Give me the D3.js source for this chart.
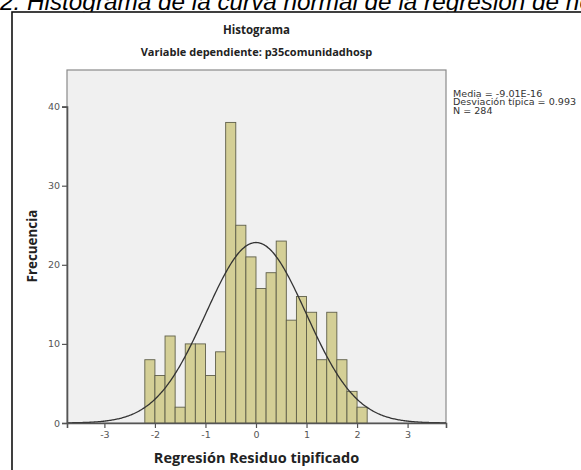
<!DOCTYPE html>
<html><head><meta charset="utf-8">
<script src="https://cdn.jsdelivr.net/npm/d3@7/dist/d3.min.js"></script>
<style>html,body{margin:0;padding:0;background:#fff;}svg{display:block;}</style>
</head><body>
<script>
// Data
const binLower = [-2.2,-2.0,-1.8,-1.6,-1.4,-1.2,-1.0,-0.8,-0.6,-0.4,-0.2,0.0,0.2,0.4,0.6,0.8,1.0,1.2,1.4,1.6,1.8,2.0];
const counts   = [8,6,11,2,10,10,6,9,38,25,21,17,19,23,13,16,14,8,14,8,4,2];
const binWidth = 0.2;
const xTicks = [-3,-2,-1,0,1,2,3];
const yTicks = [0,10,20,30,40];
const statsLines = ["Media = -9.01E-16","Desviación típica = 0.993","N = 284"];
const mean = -9.01e-16, sd = 0.993, N = 284;

const W = 581, H = 470;
const svg = d3.select("body").append("svg").attr("width", W).attr("height", H);

// header caption (cropped in the reference)
svg.append("text").attr("x", 0).attr("y", 9.5)
  .attr("font-family", "Liberation Sans, Arial, sans-serif").attr("font-style", "italic")
  .attr("font-size", 24.3).attr("fill", "#000")
  .text("2. Histograma de la curva normal de la regresión de no");

// outer frame
svg.append("rect").attr("x", 12).attr("y", 12).attr("width", W + 20).attr("height", H + 20)
  .attr("fill", "#fff").attr("stroke", "#111").attr("stroke-width", 1.6);

const plot = {l: 67, r: 446, t: 70, b: 423};
const x = d3.scaleLinear().domain([-3.74, 3.76]).range([plot.l, plot.r]);
const y = d3.scaleLinear().domain([0, 40]).range([plot.b, 106.6]);

svg.append("rect").attr("x", plot.l).attr("y", plot.t).attr("width", plot.r - plot.l).attr("height", plot.b - plot.t)
  .attr("fill", "#f0f0f0").attr("stroke", "#8a8a8a").attr("stroke-width", 1.2);

// bars
svg.append("g").selectAll("rect").data(counts).join("rect")
  .attr("x", (d, i) => x(binLower[i]))
  .attr("width", (d, i) => x(binLower[i] + binWidth) - x(binLower[i]))
  .attr("y", d => y(d))
  .attr("height", d => y(0) - y(d))
  .attr("fill", "#d4cf96").attr("stroke", "#5f5f4a").attr("stroke-width", 0.9);

// normal curve
const xs = d3.range(x.domain()[0], x.domain()[1] + 0.001, 0.02);
const pdf = v => N * binWidth * Math.exp(-0.5 * Math.pow((v - mean) / sd, 2)) / (sd * Math.sqrt(2 * Math.PI));
svg.append("path").datum(xs)
  .attr("d", d3.line().x(v => x(v)).y(v => y(pdf(v))).curve(d3.curveBasis))
  .attr("fill", "none").attr("stroke", "#333").attr("stroke-width", 1.3);

// axes
const tickFont = "DejaVu Sans, sans-serif";
const yAxis = svg.append("g").attr("transform", `translate(${plot.l},0)`)
  .call(d3.axisLeft(y).tickValues(yTicks).tickSize(5).tickPadding(2));
const xAxis = svg.append("g").attr("transform", `translate(0,${plot.b})`)
  .call(d3.axisBottom(x).tickValues(xTicks).tickSize(5).tickPadding(3).tickFormat(d3.format("d")));
[yAxis, xAxis].forEach(a => {
  a.select(".domain").attr("stroke", "#555").attr("stroke-width", 1.6);
  a.selectAll(".tick line").attr("stroke", "#555").attr("stroke-width", 1.2);
  a.selectAll(".tick text").attr("fill", "#555").attr("font-family", tickFont).attr("font-size", 9.5);
});
xAxis.selectAll(".tick text").text(d => d < 0 ? "-" + Math.abs(d) : d);

// titles
const boldFont = "Open Sans, DejaVu Sans, sans-serif";
svg.append("text").attr("x", 256.5).attr("y", 34).attr("text-anchor", "middle")
  .attr("font-family", boldFont).attr("font-weight", "bold").attr("font-size", 11.5).attr("fill", "#222")
  .text("Histograma");
svg.append("text").attr("x", 256.5).attr("y", 56).attr("text-anchor", "middle")
  .attr("font-family", boldFont).attr("font-weight", "bold").attr("font-size", 11).attr("fill", "#222")
  .text("Variable dependiente: p35comunidadhosp");
svg.append("text").attr("x", 256.5).attr("y", 463).attr("text-anchor", "middle")
  .attr("font-family", boldFont).attr("font-weight", "bold").attr("font-size", 14.5).attr("fill", "#222")
  .text("Regresión Residuo tipificado");
svg.append("text").attr("transform", "translate(37,246) rotate(-90)").attr("text-anchor", "middle")
  .attr("font-family", boldFont).attr("font-weight", "bold").attr("font-size", 13.4).attr("fill", "#222")
  .text("Frecuencia");

// stats (slightly stretched small text to match the reference's wide face)
svg.append("g").selectAll("text").data(statsLines).join("text")
  .attr("transform", (d, i) => `translate(453,${96.5 + i * 8.6}) scale(1.14,1)`)
  .attr("font-family", tickFont).attr("font-size", 8.4).attr("fill", "#333")
  .text(d => d);
</script>
</body></html>
